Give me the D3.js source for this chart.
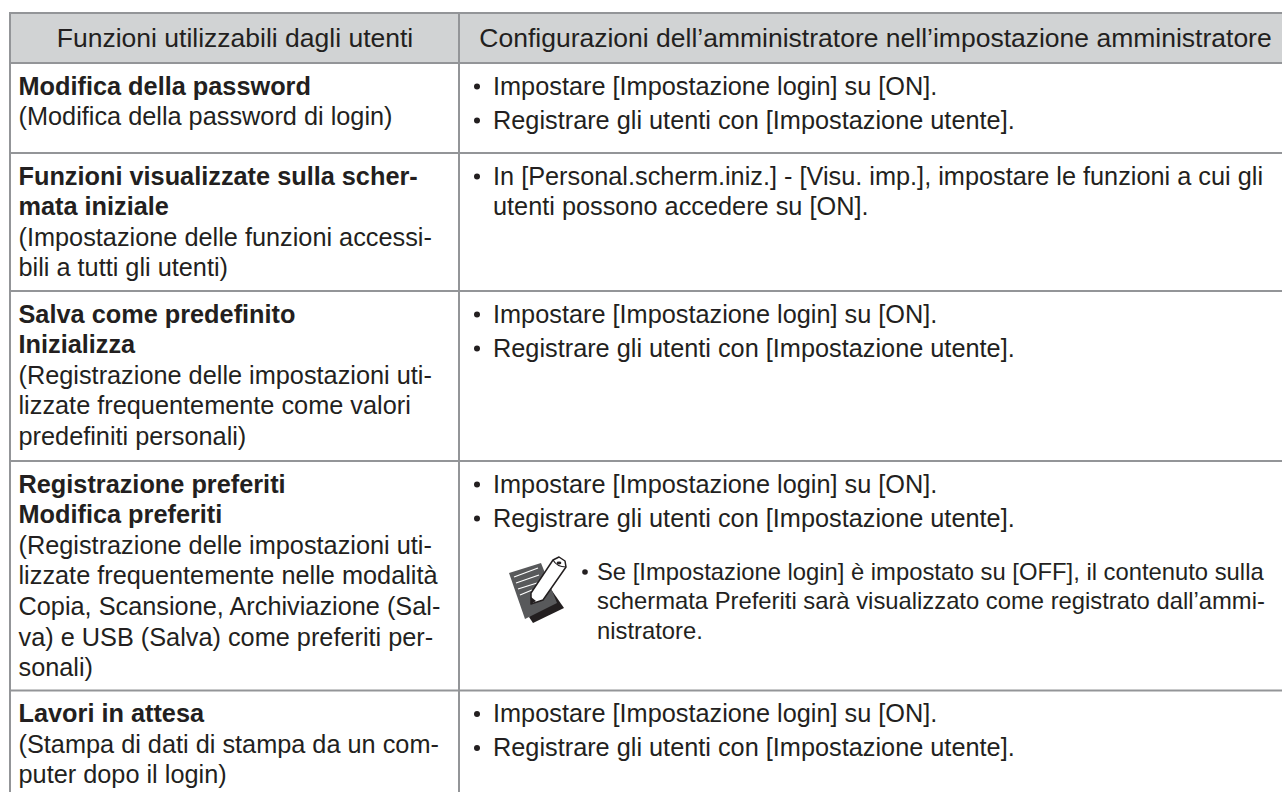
<!DOCTYPE html>
<html lang="it">
<head>
<meta charset="utf-8">
<title>Funzioni utilizzabili dagli utenti</title>
<script src="https://d3js.org/d3.v7.min.js"></script>
<style>
  html, body { margin: 0; padding: 0; background: #fff; overflow: hidden; }
  text { font-family: "Liberation Sans", Arial, sans-serif; fill: #231f20; }
</style>
</head>
<body>
<script>
// table content, one array per column, lines broken as in the page
var headers = ["Funzioni utilizzabili dagli utenti", "Configurazioni dell\u2019amministratore nell\u2019impostazione amministratore"];

var titles = [
  ["Modifica della password"],
  ["Funzioni visualizzate sulla scher-", "mata iniziale"],
  ["Salva come predefinito", "Inizializza"],
  ["Registrazione preferiti", "Modifica preferiti"],
  ["Lavori in attesa"]
];

var notes = [
  ["(Modifica della password di login)"],
  ["(Impostazione delle funzioni accessi-", "bili a tutti gli utenti)"],
  ["(Registrazione delle impostazioni uti-", "lizzate frequentemente come valori", "predefiniti personali)"],
  ["(Registrazione delle impostazioni uti-", "lizzate frequentemente nelle modalit\u00e0", "Copia, Scansione, Archiviazione (Sal-", "va) e USB (Salva) come preferiti per-", "sonali)"],
  ["(Stampa di dati di stampa da un com-", "puter dopo il login)"]
];

var login = "Impostare [Impostazione login] su [ON].";
var register = "Registrare gli utenti con [Impostazione utente].";

var bullets = [
  [[login], [register]],
  [["In [Personal.scherm.iniz.] - [Visu. imp.], impostare le funzioni a cui gli", "utenti possono accedere su [ON]."]],
  [[login], [register]],
  [[login], [register]],
  [[login], [register]]
];

var noteLines = [
  "Se [Impostazione login] \u00e8 impostato su [OFF], il contenuto sulla",
  "schermata Preferiti sar\u00e0 visualizzato come registrato dall\u2019ammi-",
  "nistratore."
];

// y of the horizontal rules, top of the header first
var rules = [13, 63, 153, 291, 461, 690.5];

var w = 1282, h = 792;
var colX = [10, 459];
var headCenter = [235, 875.5];
var lineH = 30.6;
var itemGap = 34;
var bodySize = 25.3;
var ruleColor = "#939598";

var svg = d3.select("body").append("svg").attr("width", w).attr("height", h).style("display", "block");

// header band
svg.append("rect")
  .attr("x", colX[0]).attr("y", rules[0])
  .attr("width", w - colX[0]).attr("height", rules[1] - rules[0])
  .attr("fill", "#d1d3d4");

svg.selectAll("text.head")
  .data(headers)
  .enter().append("text")
  .attr("class", "head")
  .attr("x", function(d, i) { return headCenter[i]; })
  .attr("y", 47)
  .attr("text-anchor", "middle")
  .attr("font-size", 26.5)
  .text(function(d) { return d; });

// left column: bold title and the note below it
titles.forEach(function(t, i) {
  var lines = t.map(function(s) { return { s: s, bold: true }; })
    .concat(notes[i].map(function(s) { return { s: s, bold: false }; }));
  svg.selectAll("text.left" + i)
    .data(lines)
    .enter().append("text")
    .attr("class", "left" + i)
    .attr("x", 18.5)
    .attr("y", function(d, j) { return rules[i + 1] + 31.5 + j * lineH; })
    .attr("font-size", bodySize)
    .attr("font-weight", function(d) { return d.bold ? "bold" : "normal"; })
    .text(function(d) { return d.s; });
});

// right column: bullet items
bullets.forEach(function(items, i) {
  var y = rules[i + 1] + 31.5;
  items.forEach(function(item) {
    svg.append("circle")
      .attr("cx", 477).attr("cy", y - 8).attr("r", 3)
      .attr("fill", "#231f20");
    item.forEach(function(s, j) {
      svg.append("text")
        .attr("x", 493)
        .attr("y", y + j * lineH)
        .attr("font-size", bodySize)
        .text(s);
    });
    y += itemGap + (item.length - 1) * lineH;
  });
});

// note inside the fourth row
var noteY = 580;
svg.append("circle")
  .attr("cx", 585).attr("cy", noteY - 8).attr("r", 2.8)
  .attr("fill", "#231f20");
svg.selectAll("text.note")
  .data(noteLines)
  .enter().append("text")
  .attr("class", "note")
  .attr("x", 597)
  .attr("y", function(d, i) { return noteY + i * 29.3; })
  .attr("font-size", 23.8)
  .text(function(d) { return d; });

// memo icon: dark sheet, grey page with lines and a pencil
var icon = svg.append("g").attr("transform", "translate(500,540)");
icon.append("path").attr("d", "M48 45 L64 68 L33 83 L29 77 Z").attr("fill", "#231f20");
icon.append("path").attr("d", "M9 33 L41 23 L57 63 L25 79 Z").attr("fill", "#58595b");
icon.append("g").attr("stroke", "#fff").attr("stroke-width", 1.2)
  .selectAll("line")
  .data([[14, 37, 38, 28], [16, 43, 39, 35], [18, 49, 37, 43], [20, 55, 32, 50]])
  .enter().append("line")
  .attr("x1", function(d) { return d[0]; }).attr("y1", function(d) { return d[1]; })
  .attr("x2", function(d) { return d[2]; }).attr("y2", function(d) { return d[3]; });
icon.append("path")
  .attr("d", "M31 64 L31 53 L53 20 L59 17 L65 21 L66 27 L43 60 Z")
  .attr("fill", "#fff").attr("stroke", "#231f20").attr("stroke-width", 1.5).attr("stroke-linejoin", "round");
icon.append("path").attr("d", "M31 64 L31 57 L36 61 Z").attr("fill", "#231f20");
icon.append("path").attr("d", "M53 20 Q57 27 66 27").attr("fill", "none").attr("stroke", "#231f20").attr("stroke-width", 1.2);
icon.append("ellipse").attr("cx", 59).attr("cy", 23).attr("rx", 2.4).attr("ry", 1.4).attr("fill", "#231f20");

// rules on top of everything
svg.selectAll("line.rule")
  .data(rules)
  .enter().append("line")
  .attr("class", "rule")
  .attr("x1", colX[0] - 1).attr("x2", w)
  .attr("y1", function(d) { return d; })
  .attr("y2", function(d) { return d; })
  .attr("stroke", ruleColor).attr("stroke-width", 2);

svg.selectAll("line.col")
  .data(colX)
  .enter().append("line")
  .attr("class", "col")
  .attr("x1", function(d) { return d; }).attr("x2", function(d) { return d; })
  .attr("y1", rules[0]).attr("y2", h)
  .attr("stroke", ruleColor).attr("stroke-width", 2);
</script>
</body>
</html>
